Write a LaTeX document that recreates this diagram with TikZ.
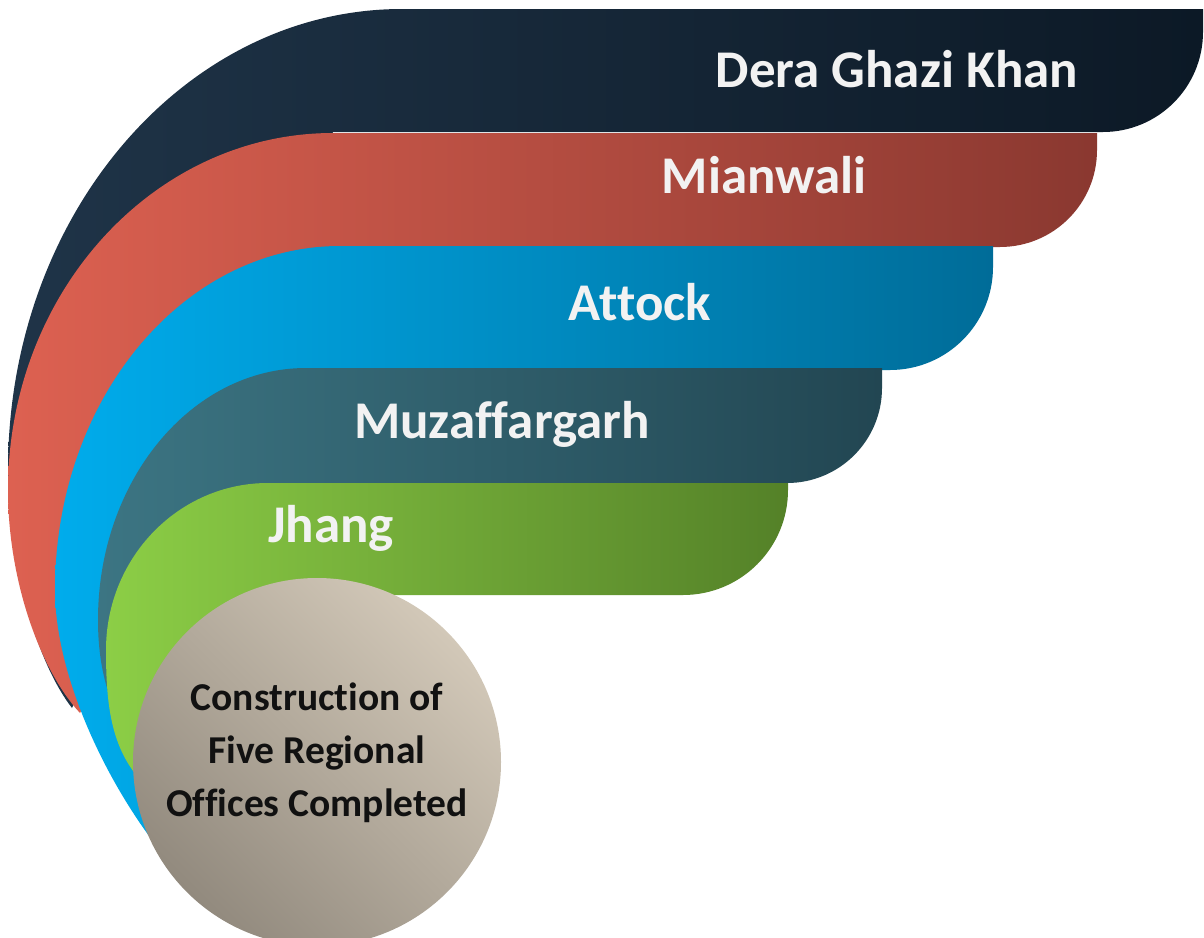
\documentclass[tikz,border=0pt]{standalone}
\usepackage{fontspec}
\setmainfont{Carlito}[Ligatures=NoCommon]
\usepackage{tikz}
\usetikzlibrary{calc}

\definecolor{dgkL}{RGB}{31,52,72}
\definecolor{dgkR}{RGB}{12,25,38}
\definecolor{mwlL}{RGB}{221,97,81}
\definecolor{mwlR}{RGB}{138,56,48}
\definecolor{atkL}{RGB}{0,172,236}
\definecolor{atkR}{RGB}{0,108,152}
\definecolor{mzgL}{RGB}{60,117,131}
\definecolor{mzgR}{RGB}{34,70,82}
\definecolor{jhgL}{RGB}{140,206,70}
\definecolor{jhgR}{RGB}{84,129,40}
\definecolor{hubL}{RGB}{210,200,184}
\definecolor{hubD}{RGB}{146,138,126}
\definecolor{lblwhite}{RGB}{242,242,242}
\definecolor{hubink}{RGB}{17,17,17}

\begin{document}
\begin{tikzpicture}[x=1pt,y=-1pt,
  lbl/.style={anchor=base,inner sep=0pt,text=lblwhite,font=\fontsize{53}{60}\selectfont\bfseries},
  hubtext/.style={align=center,inner sep=0pt,text=hubink,font=\fontsize{39.5}{53}\selectfont\bfseries}]
\useasboundingbox (0,0) rectangle (1204,937);
\fill[white] (0,0) rectangle (1204,937);
\clip (0,0) rectangle (1204,937);

% bands, back to front
\shade[left color=dgkL,right color=dgkR] (402,9) -- (1203,9) -- (1203,32)
  .. controls (1203,87.2) and (1158.2,132) .. (1103,132) -- (333,132) -- (72,708)
  .. controls (35,660) and (8,560) .. (8,470)
  .. controls (8,215.4) and (184.4,9) .. (402,9) -- cycle;
\shade[left color=mwlL,right color=mwlR] (333,133) -- (1097,133) -- (1097,150)
  .. controls (1097,203.6) and (1053.6,247) .. (1000,247) -- (340,247) -- (80,713)
  .. controls (40,670) and (8,580) .. (8,490)
  .. controls (8,292.8) and (153.5,133) .. (333,133) -- cycle;
\shade[left color=atkL,right color=atkR] (340,246) -- (993,246) -- (993,267)
  .. controls (993,323.9) and (946.9,370) .. (890,370) -- (306,370) -- (152,840)
  .. controls (100,770) and (55,670) .. (55,590)
  .. controls (55,400) and (182.6,246) .. (340,246) -- cycle;
\shade[left color=mzgL,right color=mzgR] (306,368) -- (882,368) -- (882,388)
  .. controls (882,440.5) and (839.5,483) .. (787,483) -- (268,483) -- (140,745)
  .. controls (115,720) and (98,680) .. (98,620)
  .. controls (98,480.8) and (191.1,368) .. (306,368) -- cycle;
\shade[left color=jhgL,right color=jhgR] (268,483) -- (788,483) -- (788,490)
  .. controls (788,548) and (741,595) .. (683,595) -- (320,595) -- (150,790)
  .. controls (112,755) and (106,710) .. (106,650)
  .. controls (106,557.8) and (178.5,483) .. (268,483) -- cycle;

% centre disc
\shade[top color=hubL,bottom color=hubD,shading angle=-45] (317,762) circle[radius=184];

\node[lbl] (dgk) at (897,87) {Dera Ghazi Khan};
\node[lbl] (mwl) at (764,193) {Mianwali};
\node[lbl] (atk) at (640,320) {Attock};
\node[lbl] (mzg) at (502,438) {Muzaffargarh};
\node[lbl] (jhg) at (331,542) {Jhang};
\node[hubtext] (hub) at (317,753) {Construction of\\Five Regional\\Offices Completed};
\end{tikzpicture}
\end{document}
